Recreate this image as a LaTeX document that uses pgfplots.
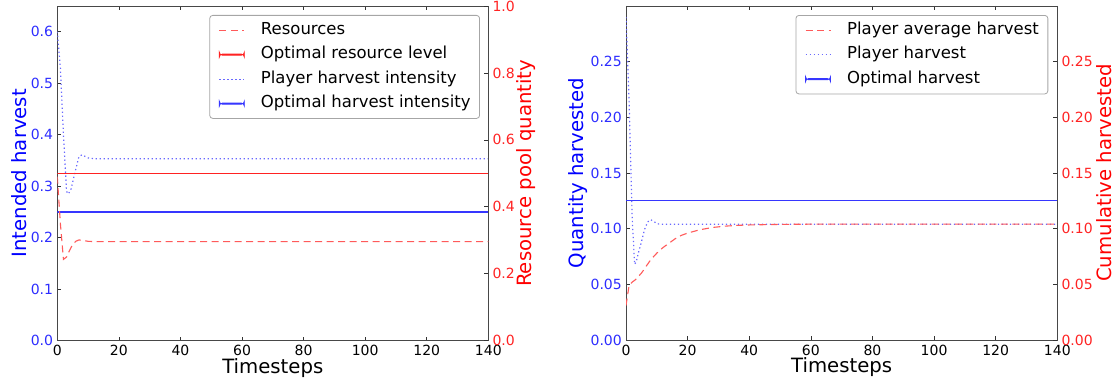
\documentclass[border=0pt]{standalone}
\usepackage{fontspec}
\setmainfont{DejaVu Sans}
\usepackage{pgfplots}
\pgfplotsset{compat=1.18}

\definecolor{colRedDash}{RGB}{255,90,90}
\definecolor{colRedLine}{RGB}{255,34,34}
\definecolor{colBlueDot}{RGB}{105,105,255}
\definecolor{colBlueLine}{RGB}{54,54,255}
\definecolor{colTickBlue}{RGB}{45,45,255}
\definecolor{colTickRed}{RGB}{255,35,35}

\pgfplotsset{
  base/.style={
    scale only axis, anchor=south west,
    xmin=0, xmax=140,
    tick align=inside, major tick length=4bp,
    /pgf/number format/assume math mode=true,
    tick label style={font=\fontsize{14bp}{16bp}\selectfont, inner sep=0bp},
    axis line style={black!72, line width=0.9bp},
    every tick/.style={black!80, line width=0.7bp},
    label style={font=\fontsize{19.7bp}{22bp}\selectfont},
  },
  reddash/.style={draw=colRedDash, line width=1.1bp, dash pattern=on 7bp off 4.5bp},
  bluedot/.style={draw=colBlueDot, line width=1.2bp, dash pattern=on 1.3bp off 2.7bp},
  redstrip/.style={fill=colRedLine, draw=none},
  bluestrip/.style={fill=colBlueLine, draw=none},
  redlineleg/.style={legend image code/.code={\fill[colRedLine] (0bp,-0.55bp) rectangle (25bp,0.55bp);}},
  bluelineleg/.style={legend image code/.code={\fill[colBlueLine] (0bp,-0.55bp) rectangle (25bp,0.55bp);}},
  mylegend/.style={
    legend image code/.code={\draw[##1] (0bp,0bp) -- (25bp,0bp);},
    legend cell align=left,
    legend style={anchor=north east, draw=black!35, line width=0.8bp,
      rounded corners=3bp, fill=white, inner xsep=9bp, inner ysep=6.5bp,
      font=\fontsize{16.5bp}{18bp}\selectfont, row sep=8bp, column sep=16bp,
      nodes={inner sep=0bp, text height=12.2bp, text depth=4.3bp}},
  },
}

\begin{document}
\begin{tikzpicture}[x=1bp,y=1bp]
\path[use as bounding box] (0,0) rectangle (1115,389);

% ---------------- Left panel: left (blue) axis ----------------
\begin{axis}[base, at={(57.3bp,48.3bp)}, width=431bp, height=334.7bp,
  ymin=0, ymax=0.65,
  xtick={0,20,...,140}, xtick pos=both, ytick pos=left,
  ytick={0,0.1,0.2,0.3,0.4,0.5,0.6},
  xticklabel style={yshift=-4.5bp},
  yticklabel style={text=colTickBlue, xshift=-4bp, /pgf/number format/.cd, fixed, fixed zerofill, precision=1},
  xlabel={Timesteps},
  xlabel style={at={(axis description cs:0.5,-0.0974)}, anchor=base},
  ylabel={Intended harvest},
  ylabel style={text=blue, at={(axis description cs:-0.071,0.5)}, anchor=base},
]
% optimal harvest intensity 0.25 (drawn as a 1.1bp-high strip)
\addplot[bluestrip] coordinates {(0,0.24893)(140,0.24893)(140,0.25107)(0,0.25107)} -- cycle;
\addplot[bluedot] coordinates {(0,0.600)(1,0.530)(2,0.400)(3,0.290)(3.6,0.285)(4.5,0.295)(5,0.308)(6,0.333)(7,0.357)(8,0.361)(9,0.358)(10,0.355)(12,0.3535)(140,0.3535)};
\end{axis}

% ---------------- Left panel: right (red) axis ----------------
\begin{axis}[base, mylegend, at={(57.3bp,48.3bp)}, width=431bp, height=334.7bp,
  ymin=0, ymax=1,
  axis x line=none, axis y line*=right,
  ytick={0,0.2,0.4,0.6,0.8,1.0},
  yticklabel style={text=colTickRed, xshift=4bp, /pgf/number format/.cd, fixed, fixed zerofill, precision=1},
  ylabel={Resource pool quantity},
  ylabel style={text=red, at={(axis description cs:1.1007,0.5)}, anchor=base},
  legend style={at={(0.9807,0.9731)}},
]
% optimal resource level 0.5
\addplot[redstrip, forget plot] coordinates {(0,0.49836)(140,0.49836)(140,0.50164)(0,0.50164)} -- cycle;
\addplot[reddash, forget plot] coordinates {(0,0.49)(1,0.35)(2,0.243)(3,0.25)(4,0.27)(5,0.288)(6,0.297)(7,0.301)(8,0.300)(10,0.297)(12,0.296)(140,0.296)};
\addlegendimage{reddash}
\addlegendentry{Resources}
\addlegendimage{redlineleg}
\addlegendentry{Optimal resource level}
\addlegendimage{bluedot}
\addlegendentry{Player harvest intensity}
\addlegendimage{bluelineleg}
\addlegendentry{Optimal harvest intensity}
\end{axis}

% ---------------- Right panel: left (blue) axis ----------------
\begin{axis}[base, at={(626bp,49bp)}, width=431.3bp, height=334bp,
  ymin=0, ymax=0.2999,
  xtick={0,20,...,140}, xtick pos=both, ytick pos=left,
  ytick={0,0.05,0.10,0.15,0.20,0.25},
  xticklabel style={yshift=-4.5bp},
  yticklabel style={text=colTickBlue, xshift=-4bp, /pgf/number format/.cd, fixed, fixed zerofill, precision=2},
  xlabel={Timesteps},
  xlabel style={at={(axis description cs:0.5,-0.0976)}, anchor=base},
  ylabel={Quantity harvested},
  ylabel style={text=blue, at={(axis description cs:-0.099,0.5)}, anchor=base},
]
% optimal harvest 0.125
\addplot[bluestrip] coordinates {(0,0.12451)(140,0.12451)(140,0.12549)(0,0.12549)} -- cycle;
\addplot[bluedot] coordinates {(0,0.29)(1,0.215)(2,0.11)(2.8,0.068)(3.3,0.070)(4,0.078)(5,0.088)(6,0.099)(7,0.106)(8,0.108)(9,0.1065)(10,0.1045)(11,0.104)(140,0.104)};
\end{axis}

% ---------------- Right panel: right (red) axis ----------------
\begin{axis}[base, mylegend, at={(626bp,49bp)}, width=431.3bp, height=334bp,
  ymin=0, ymax=0.2999,
  axis x line=none, axis y line*=right,
  ytick={0,0.05,0.10,0.15,0.20,0.25},
  yticklabel style={text=colTickRed, xshift=4bp, /pgf/number format/.cd, fixed, fixed zerofill, precision=2},
  ylabel={Cumulative harvested},
  ylabel style={text=red, at={(axis description cs:1.126,0.5)}, anchor=base},
  legend style={at={(0.979,0.973)}},
]
\addplot[reddash] coordinates {(0,0.031)(1,0.049)(2,0.052)(3,0.054)(4,0.057)(5,0.060)(6,0.064)(7,0.068)(8,0.072)(9,0.075)(10,0.078)(12,0.083)(14,0.087)(16,0.091)(18,0.094)(20,0.096)(24,0.099)(28,0.101)(32,0.1022)(36,0.1029)(40,0.1033)(50,0.1038)(60,0.104)(140,0.104)};
\addlegendentry{Player average harvest}
\addlegendimage{bluedot}
\addlegendentry{Player harvest}
\addlegendimage{bluelineleg}
\addlegendentry{Optimal harvest}
\end{axis}
\end{tikzpicture}
\end{document}
